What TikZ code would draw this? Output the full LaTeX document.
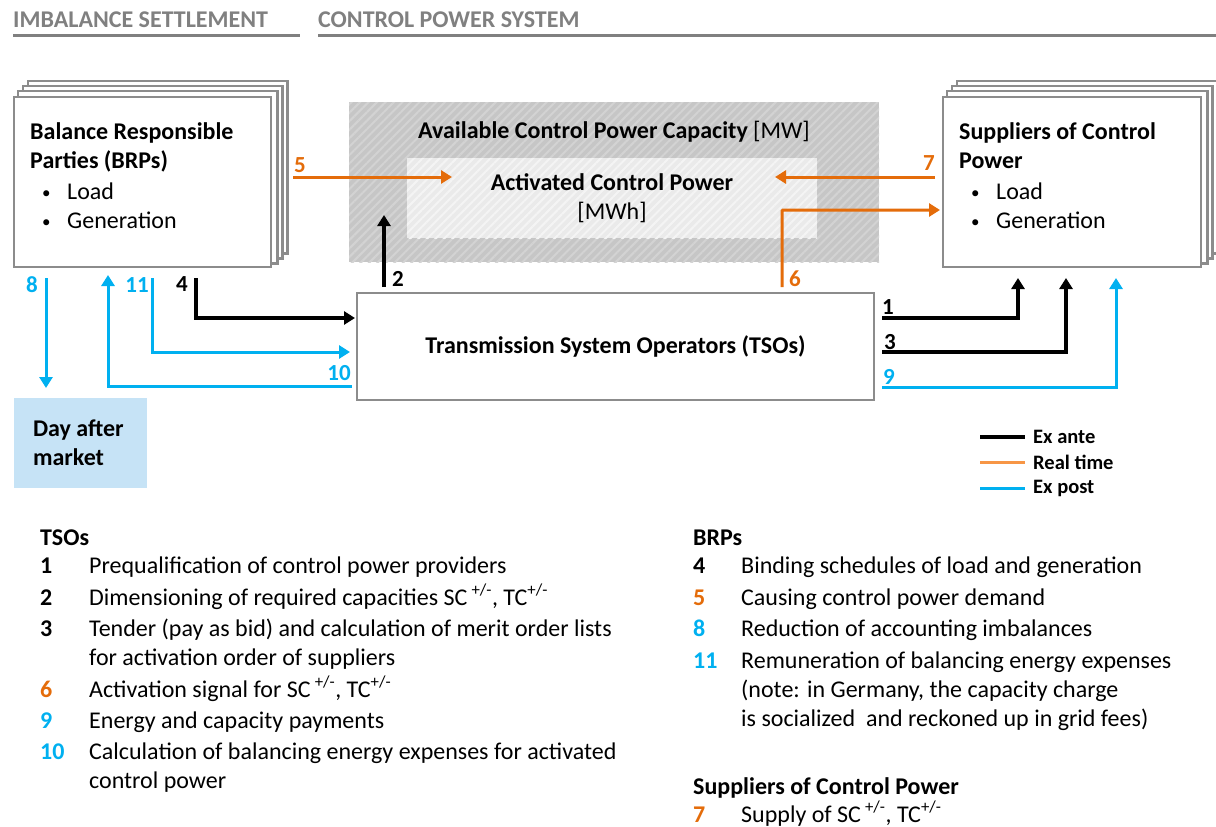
\documentclass[tikz,border=0pt]{standalone}
\usepackage{fontspec}
\setmainfont{Carlito}
\usetikzlibrary{positioning,calc,arrows.meta,patterns.meta,backgrounds}

\definecolor{boxgray}{HTML}{8C8C8C}
\definecolor{headgray}{HTML}{808080}
\definecolor{rtorange}{HTML}{E46C0A}
\definecolor{rtlight}{HTML}{F79646}
\definecolor{epblue}{HTML}{00B0F0}
\definecolor{damblue}{HTML}{C6E3F6}
\definecolor{hatchdark}{HTML}{C6C6C6}
\definecolor{hatchdarkln}{HTML}{D3D3D3}
\definecolor{hatchlight}{HTML}{EAEAEA}
\definecolor{hatchlightln}{HTML}{F4F4F4}

\newcommand{\fsz}[2]{\fontsize{#1}{#2}\selectfont}
\newcommand{\plmi}{\textsuperscript{+/-}}
\newcommand{\bitem}{\hspace*{12pt}\makebox[25pt][l]{\raisebox{1pt}{\fsz{17}{17}\textbullet}}}

\begin{document}
\begin{tikzpicture}[x=1pt,y=-1pt,>={Triangle[length=11pt,width=13pt]},
    every node/.style={inner sep=0pt},
    stackbox/.style={draw=boxgray,line width=2.5pt,fill=white},
    hatchbox/.style 2 args={fill=#1,postaction={pattern={Lines[angle=45,distance=6pt,line width=2pt]},pattern color=#2}},
    boxtext/.style={font=\fsz{24}{29},align=left,anchor=base west},
    exante/.style={draw=black,line width=3.5pt,->},
    realtime/.style={draw=rtorange,line width=3pt,->},
    expost/.style={draw=epblue,line width=3pt,->},
    numlbl/.style={font=\fsz{23}{23}\bfseries},
    header/.style={font=\fsz{24}{24}\bfseries,text=headgray,anchor=west},
    legtext/.style={font=\fsz{20.5}{20.5}\bfseries,anchor=west},
    listnum/.style={font=\fsz{24}{29}\bfseries,anchor=base west},
    listtxt/.style={font=\fsz{24}{29},align=left,anchor=base west}]
  \useasboundingbox (0,0) rectangle (1216,827);

  % headers
  \node[header] (hdimb) at (13,20) {IMBALANCE SETTLEMENT};
  \node[header] (hdcps) at (318,20) {CONTROL POWER SYSTEM};
  \draw[headgray,line width=3pt] (13,35) -- (300,35);
  \draw[headgray,line width=3pt] (318,35) -- (1216,35);

  % boxes
  \node[stackbox,minimum width=257pt,minimum height=170pt] (brp) at (142.5,182) {};
  \node[stackbox,minimum width=258pt,minimum height=170pt] (sup) at (1072,182) {};
  \begin{scope}[on background layer]
    \foreach \k in {3,2,1} {
      \draw[stackbox] ($(brp.south west)+(5*\k,-5*\k)$) rectangle ($(brp.north east)+(5*\k,-5*\k)$);
      \draw[stackbox] ($(sup.south west)+(5*\k,-5*\k)$) rectangle ($(sup.north east)+(5*\k,-5*\k)$);
    }
  \end{scope}
  \node[boxtext] (brptext) at (30,228) {\textbf{Balance Responsible}\\\textbf{Parties (BRPs)}\\[2pt]
    \bitem Load\\\bitem Generation};
  \node[boxtext] (suptext) at (959,228) {\textbf{Suppliers of Control}\\\textbf{Power}\\[2pt]
    \bitem Load\\\bitem Generation};

  \node[hatchbox={hatchdark}{hatchdarkln},minimum width=530pt,minimum height=160pt] (avail) at (614,182) {};
  \node[hatchbox={hatchlight}{hatchlightln},minimum width=410pt,minimum height=80pt] (activ) at (612,198) {};
  \node[font=\fsz{24}{29}] (availtext) at (614,132) {\textbf{Available Control Power Capacity} [MW]};
  \node[font=\fsz{24}{29},align=center] (activtext) at (activ) {\textbf{Activated Control Power}\\{}[MWh]};

  \node[draw=boxgray,line width=2.5pt,fill=white,minimum width=517pt,minimum height=107pt,
        font=\fsz{24}{29}\bfseries] (tso) at (615.5,346.5) {Transmission System Operators (TSOs)};

  \node[fill=damblue,minimum width=133pt,minimum height=90pt] (dam) at (80.5,443) {};
  \node[font=\fsz{24}{29}\bfseries,align=left,anchor=west] (damtext) at ($(dam.west)+(19,0)$) {Day after\\market};

  % connectors
  \coordinate (s5) at (293,177);  \coordinate (e5) at (452,177);
  \coordinate (s7) at (935,177);  \coordinate (e7) at (775,177);
  \coordinate (s6) at (782,287);  \coordinate (e6) at (940,210);
  \coordinate (s2) at (384,287);  \coordinate (e2) at (384,215);
  \coordinate (s4) at (196,278);  \coordinate (e4) at (355,318);
  \coordinate (s11) at (152,278); \coordinate (e11) at (350,352);
  \coordinate (s10) at (352,386); \coordinate (e10) at (108,275);
  \coordinate (s8) at (46,278);   \coordinate (e8) at (46,388);
  \coordinate (s1) at (882,318);  \coordinate (e1) at (1018,278);
  \coordinate (s3) at (882,352);  \coordinate (e3) at (1066,278);
  \coordinate (s9) at (882,387);  \coordinate (e9) at (1116,278);

  \draw[realtime] (s5) -- (e5);
  \draw[realtime] (s7) -- (e7);
  \draw[realtime,rounded corners=1pt] (s6) |- (e6);
  \draw[exante] (s2) -- (e2);
  \draw[exante] (s4) |- (e4);
  \draw[expost] (s11) |- (e11);
  \draw[expost] (s10) -| (e10);
  \draw[expost] (s8) -- (e8);
  \draw[exante] (s1) -| (e1);
  \draw[exante] (s3) -| (e3);
  \draw[expost] (s9) -| (e9);

  \node[numlbl,text=rtorange] (l5) at (300,165) {5};
  \node[numlbl,text=rtorange] (l7) at (929,163) {7};
  \node[numlbl,text=rtorange] (l6) at (795,279) {6};
  \node[numlbl] (l2) at (398,279) {2};
  \node[numlbl] (l4) at (182,284) {4};
  \node[numlbl,text=epblue] (l11) at (137,285) {11};
  \node[numlbl,text=epblue] (l8) at (32,285) {8};
  \node[numlbl,text=epblue] (l10) at (339,373) {10};
  \node[numlbl] (l1) at (888,307) {1};
  \node[numlbl] (l3) at (890,342) {3};
  \node[numlbl,text=epblue] (l9) at (889,377) {9};

  % legend
  \coordinate (lg1) at (980,437); \coordinate (lg2) at (980,462); \coordinate (lg3) at (980,488);
  \draw[black,line width=4pt] (lg1) -- ++(45,0);
  \draw[rtlight,line width=3pt] (lg2) -- ++(45,0);
  \draw[epblue,line width=3pt] (lg3) -- ++(45,0);
  \node[legtext] (lgt1) at (1033,437) {Ex ante};
  \node[legtext] (lgt2) at (1033,462) {Real time};
  \node[legtext] (lgt3) at (1033,488) {Ex post};

  % TSO list
  \node[listnum] (hdtso) at (40,545) {TSOs};
  \node[listnum] (n1) at (40,573) {1};
  \node[listtxt] (t1) at (89,573) {Prequalification of control power providers};
  \node[listnum] (n2) at (40,605) {2};
  \node[listtxt] (t2) at (89,605) {Dimensioning of required capacities SC\,\plmi, TC\plmi};
  \node[listnum] (n3) at (40,636) {3};
  \node[listtxt] (t3) at (89,665) {Tender (pay as bid) and calculation of merit order lists\\for activation order of suppliers};
  \node[listnum,text=rtorange] (n6) at (40,697) {6};
  \node[listtxt] (t6) at (89,697) {Activation signal for SC\,\plmi, TC\plmi};
  \node[listnum,text=epblue] (n9) at (40,728) {9};
  \node[listtxt] (t9) at (89,728) {Energy and capacity payments};
  \node[listnum,text=epblue] (n10) at (40,759) {10};
  \node[listtxt] (t10) at (89,788) {Calculation of balancing energy expenses for activated\\control power};

  % BRP list
  \node[listnum] (hdbrp) at (693,545) {BRPs};
  \node[listnum] (n4) at (693,573) {4};
  \node[listtxt] (t4) at (741,573) {Binding schedules of load and generation};
  \node[listnum,text=rtorange] (n5) at (693,605) {5};
  \node[listtxt] (t5) at (741,605) {Causing control power demand};
  \node[listnum,text=epblue] (n8) at (693,636) {8};
  \node[listtxt] (t8) at (741,636) {Reduction of accounting imbalances};
  \node[listnum,text=epblue] (n11) at (693,668) {11};
  \node[listtxt] (t11) at (741,726) {Remuneration of balancing energy expenses\\(note: in Germany, the capacity charge\\is socialized\ \ and reckoned up in grid fees)};

  % suppliers list
  \node[listnum] (hdsup) at (693,794) {Suppliers of Control Power};
  \node[listnum,text=rtorange] (n7) at (693,822) {7};
  \node[listtxt] (t7) at (741,822) {Supply of SC\,\plmi, TC\plmi};
\end{tikzpicture}
\end{document}
